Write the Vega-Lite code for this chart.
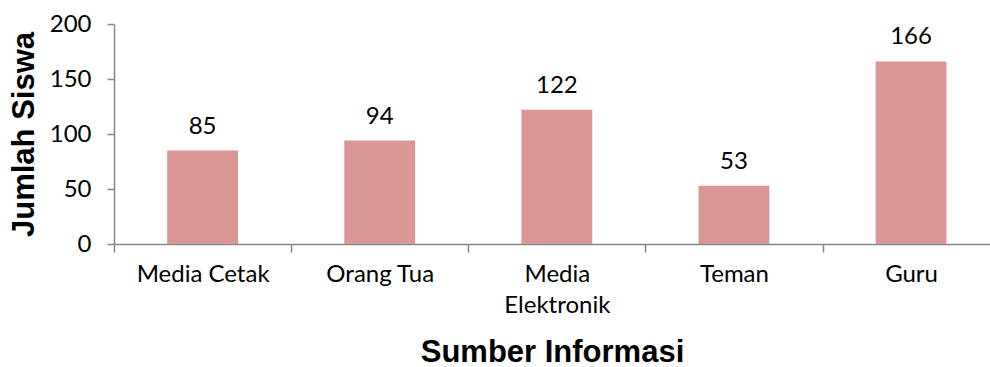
{
  "$schema": "https://vega.github.io/schema/vega-lite/v6.json",
  "autosize": "none",
  "width": 876,
  "height": 220,
  "padding": {"left": 114, "top": 24, "right": 0, "bottom": 123},
  "background": "white",
  "config": {
    "view": {"stroke": null},
    "font": "Lato"
  },
  "data": {
    "values": [
      {"sumber": "Media Cetak", "jumlah": 85},
      {"sumber": "Orang Tua", "jumlah": 94},
      {"sumber": "Media Elektronik", "jumlah": 122},
      {"sumber": "Teman", "jumlah": 53},
      {"sumber": "Guru", "jumlah": 166}
    ]
  },
  "encoding": {
    "x": {
      "field": "sumber",
      "type": "nominal",
      "sort": null,
      "scale": {"paddingInner": 0.6, "paddingOuter": 0.273, "align": 0.55},
      "axis": {
        "title": "Sumber Informasi",
        "titleFont": "Liberation Sans",
        "titleFontWeight": "bold",
        "titleFontSize": 31,
        "titleColor": "black",
        "titlePadding": 20,
        "labelAngle": 0,
        "labelFont": "Lato",
        "labelFontSize": 24,
        "labelColor": "black",
        "labelPadding": 10,
        "labelLineHeight": 31,
        "labelExpr": "datum.label == 'Media Elektronik' ? ['Media', 'Elektronik'] : datum.label",
        "ticks": true,
        "tickOffset": -88.56,
        "labelOffset": 88.56,
        "tickSize": 8,
        "tickColor": "#868686",
        "domainColor": "#868686",
        "domainWidth": 1.5,
        "tickWidth": 1.5
      }
    },
    "y": {
      "field": "jumlah",
      "type": "quantitative",
      "scale": {"domain": [0, 200]},
      "axis": {
        "title": "Jumlah Siswa",
        "titleFont": "Liberation Sans",
        "titleFontWeight": "bold",
        "titleFontSize": 31,
        "titleColor": "black",
        "titlePadding": 9,
        "values": [0, 50, 100, 150, 200],
        "grid": false,
        "labelFont": "Lato",
        "labelFontSize": 24,
        "labelColor": "black",
        "labelPadding": 16,
        "tickSize": 7,
        "tickColor": "#868686",
        "domainColor": "#868686",
        "domainWidth": 1.5,
        "tickWidth": 1.5
      }
    }
  },
  "layer": [
    {"mark": {"type": "bar", "color": "#D99694"}},
    {
      "mark": {"type": "text", "baseline": "alphabetic", "dy": -17, "font": "Lato", "fontSize": 24, "color": "black"},
      "encoding": {"text": {"field": "jumlah", "type": "quantitative"}}
    }
  ]
}
